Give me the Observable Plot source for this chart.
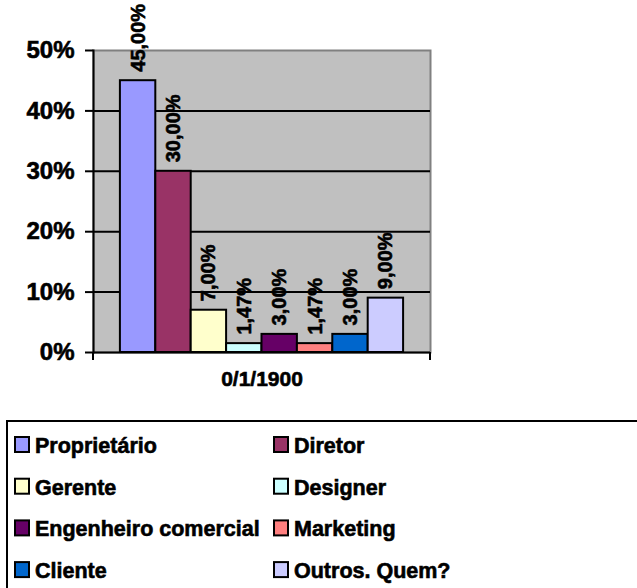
<!DOCTYPE html>
<html>
<head>
<meta charset="utf-8">
<script src="https://cdn.jsdelivr.net/npm/d3@7"></script>
<script src="https://cdn.jsdelivr.net/npm/@observablehq/plot@0.6"></script>
<style>
  html, body { margin: 0; padding: 0; background: #fff; }
  #wrap { position: relative; width: 637px; height: 588px; overflow: hidden; font-family: "Liberation Sans", Arial, sans-serif; }
  #chart { position: absolute; left: 0; top: 0; }
  #legend { position: absolute; left: 0; top: 400px; }
  svg text { font-family: "Liberation Sans", Arial, sans-serif; font-weight: 700; stroke: black; stroke-width: 0.6px; paint-order: stroke; }
</style>
</head>
<body>
<div id="wrap"><div id="chart"></div><div id="legend"></div></div>
<script>
const categories = ["Proprietário", "Diretor", "Gerente", "Designer", "Engenheiro comercial", "Marketing", "Cliente", "Outros. Quem?"];
const values = [0.45, 0.30, 0.07, 0.0147, 0.03, 0.0147, 0.03, 0.09];
const colors = ["#9999FF", "#993366", "#FFFFCC", "#CCFFFF", "#660066", "#FF8080", "#0066CC", "#CCCCFF"];
const yTicks = [0, 0.1, 0.2, 0.3, 0.4, 0.5];
const gridTicks = [0.1, 0.2, 0.3, 0.4];
const xLabel = "0/1/1900";

const data = categories.map((c, i) => ({category: c, value: values[i]}));
const fmt = v => (v * 100).toFixed(2).replace(".", ",") + "%";

const edgeTicks = (index, scales, values, dims) => {
  const g = d3.create("svg:g").attr("stroke", "black").attr("stroke-width", 2);
  const y0 = dims.height - dims.marginBottom;
  for (const x of [dims.marginLeft, dims.width - dims.marginRight]) {
    g.append("line").attr("x1", x).attr("x2", x).attr("y1", y0).attr("y2", y0 + 8);
  }
  return g.node();
};

const chart = Plot.plot({
  width: 637,
  height: 400,
  marginLeft: 93,
  marginRight: 207,
  marginTop: 50,
  marginBottom: 48,
  style: {fontFamily: "'Liberation Sans', Arial, sans-serif", color: "black", background: "white"},
  x: {domain: categories, paddingInner: 0, paddingOuter: 0.76, round: false, axis: null},
  y: {domain: [0, 0.5], axis: null},
  color: {domain: categories, range: colors},
  marks: [
    Plot.frame({fill: "#C0C0C0", stroke: "#808080", strokeWidth: 2}),
    Plot.ruleY(gridTicks, {stroke: "black", strokeWidth: 2}),
    Plot.barY(data, {x: "category", y: "value", fill: "category", stroke: "black", strokeWidth: 2}),
    Plot.axisY({ticks: yTicks, tickSize: 8, tickPadding: 11, strokeWidth: 2, tickFormat: d => Math.round(d * 100) + "%", fontSize: 24, fontWeight: "bold", label: null}),
    Plot.frame({anchor: "left", stroke: "black", strokeWidth: 2}),
    Plot.ruleY([0], {stroke: "black", strokeWidth: 2}),
    edgeTicks,
    Plot.text(data, {x: "category", y: "value", text: d => fmt(d.value), rotate: -90, textAnchor: "start", dy: -9, fontSize: 20, fontWeight: "bold", fill: "black"}),
    Plot.text([xLabel], {frameAnchor: "bottom", dy: 33, fontSize: 21, fontWeight: "bold", fill: "black"})
  ]
});
document.getElementById("chart").appendChild(chart);

// Legend
const lg = d3.create("svg").attr("width", 637).attr("height", 188);
lg.append("rect").attr("x", 7).attr("y", 21).attr("width", 700).attr("height", 220)
  .attr("fill", "white").attr("stroke", "black").attr("stroke-width", 2);
categories.forEach((c, i) => {
  const row = Math.floor(i / 2), col = i % 2;
  const base = 53 + row * 41.7;
  const sx = col ? 274 : 15;
  lg.append("rect").attr("x", sx).attr("y", base - 16).attr("width", 14).attr("height", 15)
    .attr("fill", colors[i]).attr("stroke", "black").attr("stroke-width", 2);
  lg.append("text").attr("x", sx + 20).attr("y", base).attr("font-size", 21.5)
    .attr("fill", "black").text(c);
});
document.getElementById("legend").appendChild(lg.node());
</script>
</body>
</html>
